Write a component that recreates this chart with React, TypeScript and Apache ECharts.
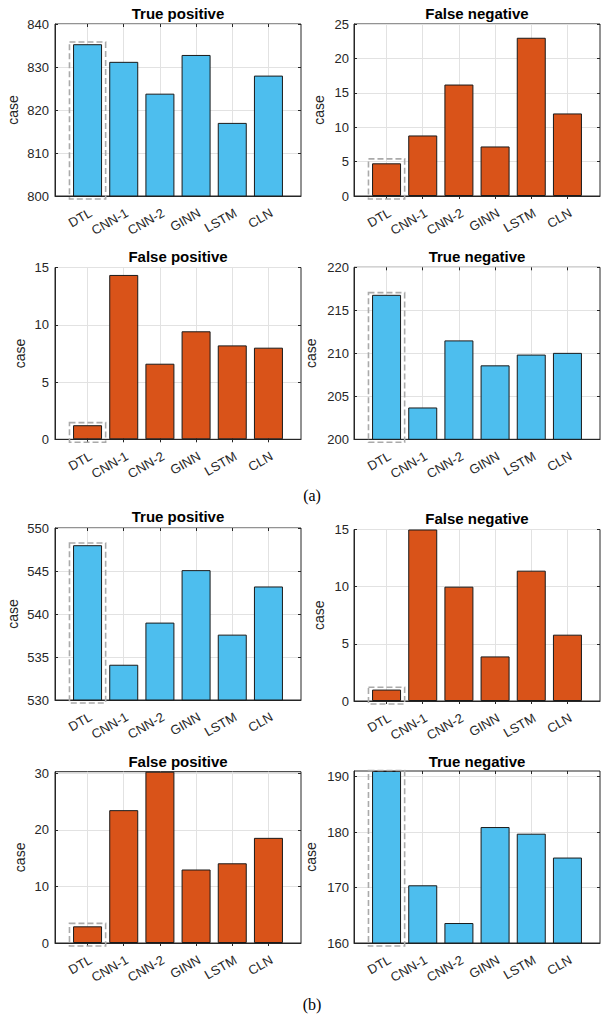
import React, { useEffect, useRef } from "react";
import * as echarts from "echarts";

const categories = ["DTL", "CNN-1", "CNN-2", "GINN", "LSTM", "CLN"];
const titles = [
  "True positive", "False negative", "False positive", "True negative",
  "True positive", "False negative", "False positive", "True negative",
];
const tpA = [835.3, 831.2, 823.8, 832.8, 817.0, 828.0];
const fnA = [4.75, 8.8, 16.2, 7.2, 23.0, 12.0];
const fpA = [1.23, 14.35, 6.6, 9.43, 8.2, 8.0];
const tnA = [216.8, 203.7, 211.5, 208.6, 209.85, 210.05];
const tpB = [548.0, 534.1, 539.0, 545.1, 537.6, 543.2];
const fnB = [1.0, 15.0, 10.0, 3.9, 11.4, 5.8];
const fpB = [2.95, 23.5, 30.3, 13.0, 14.1, 18.6];
const tnB = [191.0, 170.4, 163.6, 180.9, 179.7, 175.4];
const seriesValues = [tpA, fnA, fpA, tnA, tpB, fnB, fpB, tnB];

const yMins = [800, 0, 0, 200, 530, 0, 0, 160];
const yMaxs = [840, 25, 15, 220, 550, 15, 30.3, 191];
const yTicks = [
  [800, 810, 820, 830, 840],
  [0, 5, 10, 15, 20, 25],
  [0, 5, 10, 15],
  [200, 205, 210, 215, 220],
  [530, 535, 540, 545, 550],
  [0, 5, 10, 15],
  [0, 10, 20, 30],
  [160, 170, 180, 190],
];
const boxTops = [835.8, 5.4, 1.46, 217.05, 548.25, 1.2, 3.47, 191.1];
const xTicks = [1, 2, 3, 4, 5, 6];
const panelLabels = ["(a)", "(b)"];

const BLUE = "#4DBEEE";
const ORANGE = "#D95319";
const barColors = [BLUE, ORANGE, ORANGE, BLUE, BLUE, ORANGE, ORANGE, BLUE];

const panels = [
  { l: 55, t: 24, r: 301, b: 196, titleY: 13, nameGap: 35, labelMargin: 6 },
  { l: 354, t: 24, r: 600, b: 196, titleY: 13.3, nameGap: 28, labelMargin: 5 },
  { l: 55, t: 267.5, r: 301, b: 439.3, titleY: 256.5, nameGap: 28, labelMargin: 6 },
  { l: 354, t: 267.3, r: 600, b: 439.3, titleY: 256.7, nameGap: 36, labelMargin: 5 },
  { l: 55, t: 528, r: 301, b: 700, titleY: 516.7, nameGap: 35, labelMargin: 6 },
  { l: 354, t: 529.5, r: 600, b: 701, titleY: 518.7, nameGap: 28, labelMargin: 5 },
  { l: 55, t: 771.7, r: 301, b: 943, titleY: 761, nameGap: 28, labelMargin: 6 },
  { l: 354, t: 771, r: 600, b: 943, titleY: 761, nameGap: 36, labelMargin: 5 },
];
const panelLabelPos = [
  { x: 312, y: 495 },
  { x: 312, y: 1004 },
];

const FONT = '"Liberation Sans", Arial, Helvetica, sans-serif';
const AX = "#262626";
const GRID = "#e2e2e2";

export default function App() {
  const ref = useRef<HTMLDivElement>(null);
  useEffect(() => {
    if (!ref.current) return;
    const chart = echarts.init(ref.current, undefined, { renderer: "svg" });

    const grid: any[] = [];
    const xAxis: any[] = [];
    const yAxis: any[] = [];
    const series: any[] = [];
    const graphic: any[] = [];

    panels.forEach((p, i) => {
      grid.push({
        left: p.l,
        top: p.t,
        width: p.r - p.l,
        height: p.b - p.t,
        show: true,
        borderColor: AX,
        borderWidth: 1,
        backgroundColor: "transparent",
        containLabel: false,
        outerBoundsMode: "none",
      });
      xAxis.push({
        type: "value",
        gridIndex: i,
        min: 0.1,
        max: 6.9,
        position: "bottom",
        axisLine: { show: true, lineStyle: { color: AX, width: 1 } },
        axisTick: { show: true, inside: true, length: 3, customValues: xTicks, lineStyle: { color: AX } },
        axisLabel: {
          show: true,
          customValues: xTicks,
          formatter: (v: number) => categories[Math.round(v) - 1] ?? "",
          rotate: 30,
          align: "right",
          verticalAlign: "top",
          margin: 10,
          fontSize: 13,
          fontFamily: FONT,
          color: AX,
          hideOverlap: false,
        },
        splitLine: { show: true, lineStyle: { color: GRID, width: 1 } },
      });
      xAxis.push({
        type: "value",
        gridIndex: i,
        min: 0.1,
        max: 6.9,
        position: "top",
        axisLine: { show: false },
        axisTick: { show: true, inside: true, length: 3, customValues: xTicks, lineStyle: { color: AX } },
        axisLabel: { show: false },
        splitLine: { show: false },
      });
      yAxis.push({
        type: "value",
        gridIndex: i,
        min: yMins[i],
        max: yMaxs[i],
        position: "left",
        name: "case",
        nameLocation: "middle",
        nameGap: p.nameGap,
        nameMoveOverlap: false,
        nameTextStyle: { fontSize: 14, fontFamily: FONT, color: AX },
        axisLine: { show: true, lineStyle: { color: AX, width: 1 } },
        axisTick: { show: true, inside: true, length: 3, customValues: yTicks[i], lineStyle: { color: AX } },
        axisLabel: {
          show: true,
          customValues: yTicks[i],
          margin: p.labelMargin,
          fontSize: 13,
          fontFamily: FONT,
          color: AX,
          showMinLabel: true,
          showMaxLabel: true,
        },
        splitLine: { show: true, lineStyle: { color: GRID, width: 1 } },
      });
      yAxis.push({
        type: "value",
        gridIndex: i,
        min: yMins[i],
        max: yMaxs[i],
        position: "right",
        axisLine: { show: false },
        axisTick: { show: true, inside: true, length: 3, customValues: yTicks[i], lineStyle: { color: AX } },
        axisLabel: { show: false },
        splitLine: { show: false },
      });

      series.push({
        type: "bar",
        name: titles[i],
        xAxisIndex: 2 * i,
        yAxisIndex: 2 * i,
        data: seriesValues[i].map((v, j) => [xTicks[j], v]),
        barWidth: 29,
        silent: true,
        clip: true,
        itemStyle: { color: barColors[i], borderColor: "#1a1a1a", borderWidth: 1 },
      });

      const yMin = yMins[i];
      series.push({
        type: "custom",
        xAxisIndex: 2 * i,
        yAxisIndex: 2 * i,
        silent: true,
        clip: false,
        z: 5,
        data: [[xTicks[0], boxTops[i]]],
        renderItem: (params: any, api: any) => {
          const cx = api.value(0);
          const topRight = api.coord([cx + 0.5, api.value(1)]);
          const botLeft = api.coord([cx - 0.5, yMin]);
          return {
            type: "rect",
            shape: {
              x: botLeft[0],
              y: topRight[1],
              width: topRight[0] - botLeft[0],
              height: botLeft[1] - topRight[1] + 3,
            },
            style: { fill: "none", stroke: "#aaaaaa", lineWidth: 1.6, lineDash: [6, 3] },
          };
        },
      });

      graphic.push({
        type: "text",
        x: (p.l + p.r) / 2,
        y: p.titleY,
        silent: true,
        style: {
          text: titles[i],
          font: `bold 15px ${FONT}`,
          fill: "#000",
          align: "center",
          verticalAlign: "middle",
          textAlign: "center",
          textVerticalAlign: "middle",
        },
      });
    });

    panelLabels.forEach((lab, k) => {
      graphic.push({
        type: "text",
        x: panelLabelPos[k].x,
        y: panelLabelPos[k].y,
        silent: true,
        style: {
          text: lab,
          font: '16px "Liberation Serif", "Times New Roman", serif',
          fill: "#000",
          align: "center",
          verticalAlign: "middle",
          textAlign: "center",
          textVerticalAlign: "middle",
        },
      });
    });

    chart.setOption({
      animation: false,
      backgroundColor: "#ffffff",
      grid,
      xAxis,
      yAxis,
      series,
      graphic,
    });
    return () => chart.dispose();
  }, []);

  return (
    <div
      ref={ref}
      style={{ position: "absolute", left: 0, top: 0, width: 601, height: 1015 }}
    />
  );
}
